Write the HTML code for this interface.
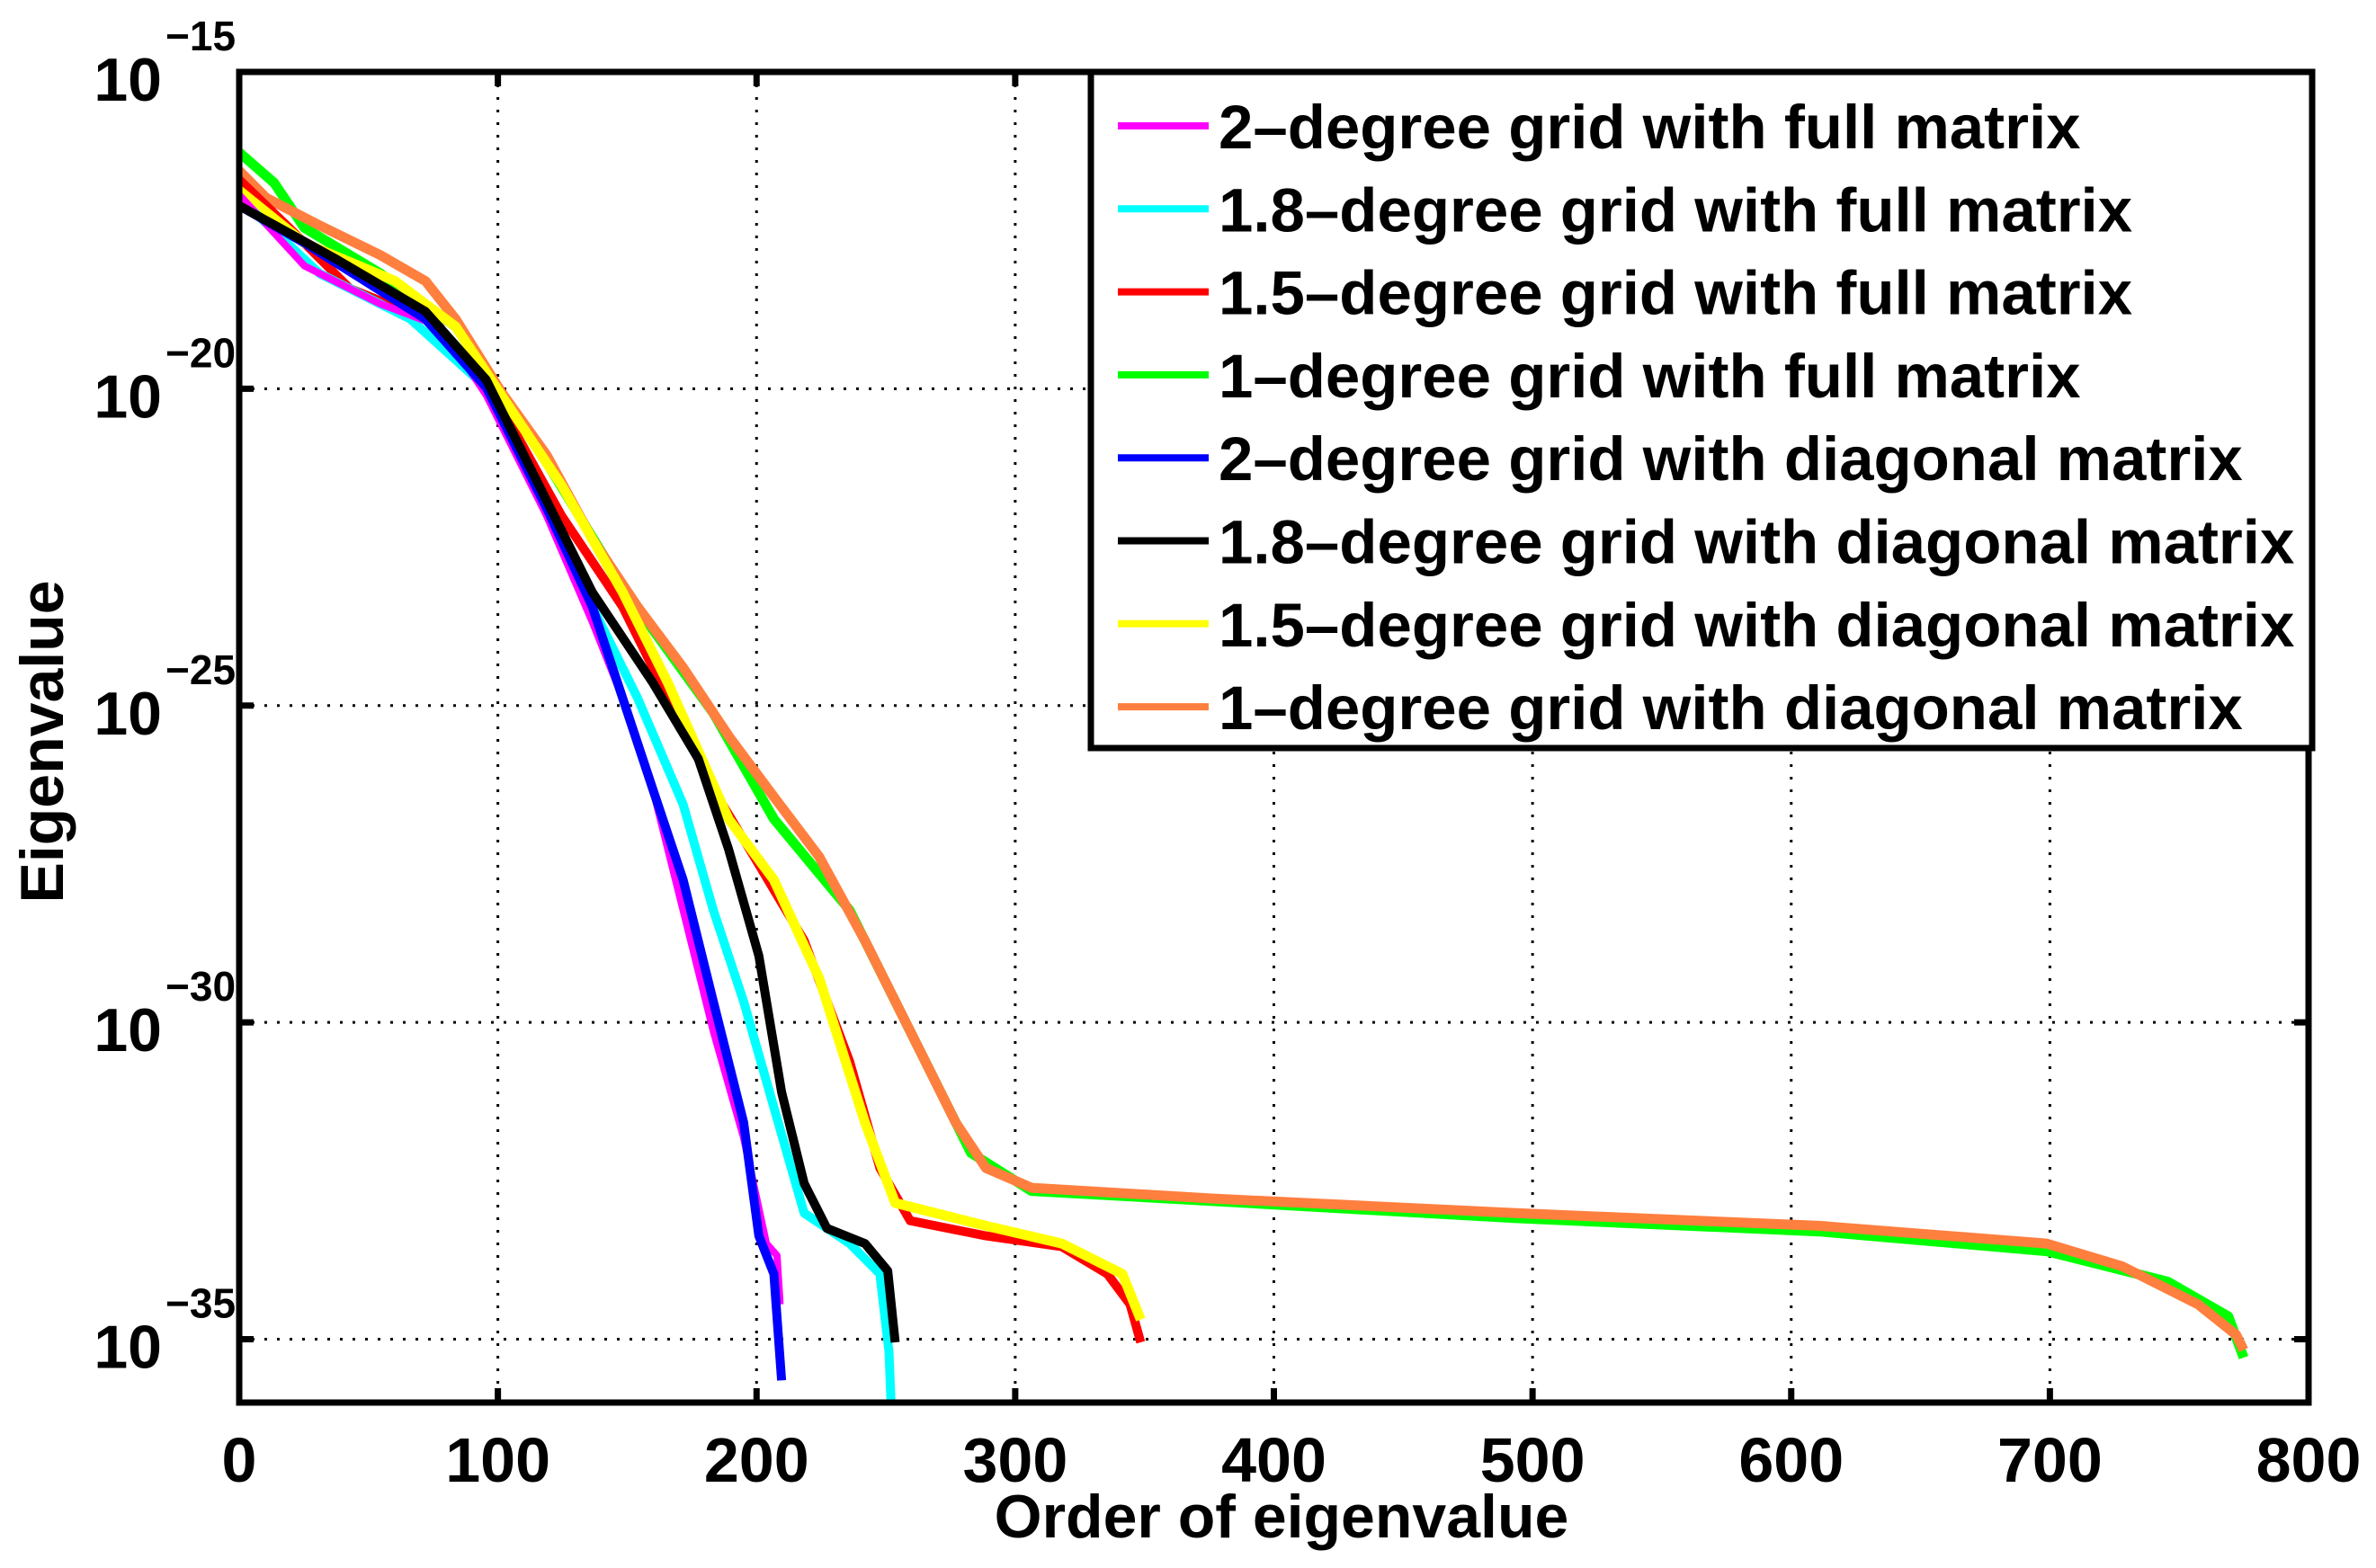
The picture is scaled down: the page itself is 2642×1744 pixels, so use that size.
<!DOCTYPE html>
<html><head><meta charset="utf-8"><style>html,body{margin:0;padding:0;background:#fff}svg{display:block}text{font-family:"Liberation Sans",sans-serif;font-weight:bold;fill:#000}</style></head>
<body>
<svg id="chart" width="2642" height="1744" viewBox="0 0 2642 1744" xmlns="http://www.w3.org/2000/svg">
<g id="grid"></g>
<g id="series"></g>
<g id="axes"></g>
<g id="legend"></g>
</svg>
<script>
const xTicks = [0,100,200,300,400,500,600,700,800];
const yTicks = [-15,-20,-25,-30,-35];
const seriesNames = ["2\u2013degree grid with full matrix","1.8\u2013degree grid with full matrix","1.5\u2013degree grid with full matrix","1\u2013degree grid with full matrix","2\u2013degree grid with diagonal matrix","1.8\u2013degree grid with diagonal matrix","1.5\u2013degree grid with diagonal matrix","1\u2013degree grid with diagonal matrix"];
const seriesColors = ["#ff00ff","#00ffff","#ff0000","#00ff00","#0000ff","#000000","#ffff00","#ff7f3f"];
const magentaX = [0,25.2,54.5,77.9,95.5,118.9,136.5,148.2,159.9,171.6,183.3,195.0,203.8,207.9,209.1];
const magentaY = [-16.94,-18.06,-18.66,-19.02,-20.10,-22.01,-23.68,-24.88,-26.32,-28.23,-30.14,-31.82,-33.49,-33.68,-34.45];
const cyanX = [0,31.0,66.2,95.5,118.9,136.5,154.0,171.6,183.3,195.0,206.7,218.4,236.0,247.7,251.2,252];
const cyanY = [-16.99,-18.18,-18.90,-19.98,-21.89,-23.44,-24.88,-26.56,-28.23,-29.67,-31.34,-33.01,-33.49,-33.97,-35.2,-36.0];
const redX = [0,19.3,42.8,72.0,95.5,124.7,148.2,165.7,183.3,200.9,218.4,236.0,247.7,259.4,288.7,318.0,335.6,344.4,348.5];
const redY = [-16.70,-17.46,-18.42,-18.90,-19.86,-22.01,-23.44,-24.88,-26.32,-27.51,-28.71,-30.62,-32.30,-33.13,-33.37,-33.54,-33.97,-34.45,-35.05];
const greenX = [0,13.5,25.2,54.5,83.7,101.3,118.9,142.3,159.9,183.3,206.7,236.0,259.4,282.9,306.3,376.6,493.7,610.8,698.7,745.5,769.0,774.9];
const greenY = [-16.27,-16.75,-17.46,-18.18,-19.02,-20.10,-21.17,-22.73,-23.80,-25.12,-26.79,-28.23,-30.14,-32.06,-32.66,-32.82,-33.09,-33.30,-33.61,-34.09,-34.64,-35.29];
const blueX = [0,25.2,72.0,95.5,118.9,136.5,148.2,159.9,171.6,183.3,195.0,200.9,206.7,209.7];
const blueY = [-17.11,-17.70,-18.90,-19.98,-21.89,-23.44,-24.88,-26.32,-27.75,-29.67,-31.58,-33.37,-33.97,-35.65];
const blackX = [0,36.9,72.0,95.5,118.9,136.5,159.9,177.5,189.2,200.9,209.7,218.4,227.2,241.9,250.7,253.6];
const blackY = [-17.11,-17.94,-18.78,-19.86,-21.77,-23.21,-24.64,-25.84,-27.27,-28.95,-31.10,-32.54,-33.25,-33.49,-33.92,-35.05];
const yellowX = [0,25.2,60.3,83.7,101.3,124.7,148.2,165.7,189.2,206.7,224.3,241.9,253.6,288.7,318.0,341.4,348.5];
const yellowY = [-16.87,-17.70,-18.30,-19.02,-20.10,-21.53,-23.21,-24.64,-26.79,-27.75,-29.31,-31.58,-32.85,-33.21,-33.49,-33.97,-34.69];
const orangeX = [0,10.5,31.0,54.5,72.0,83.7,101.3,118.9,136.5,154.0,171.6,189.2,206.7,224.3,241.9,259.4,277.0,288.7,306.3,376.6,493.7,610.8,698.7,728.0,757.3,772.0,774.9];
const orangeY = [-16.56,-16.99,-17.42,-17.89,-18.30,-18.90,-20.05,-21.05,-22.37,-23.44,-24.40,-25.48,-26.44,-27.39,-28.71,-30.14,-31.58,-32.30,-32.61,-32.78,-33.01,-33.21,-33.49,-33.85,-34.45,-34.93,-35.17];

const L=266,R=2567,T=80,B=1560;
const X=v=>L+v*(R-L)/800;
const Y=l=>T+(-15-l)*(B-T)/21;
const NS="http://www.w3.org/2000/svg";
function mk(tag,attrs,parent){const e=document.createElementNS(NS,tag);for(const k in attrs)e.setAttribute(k,attrs[k]);parent.appendChild(e);return e;}
const grid=document.getElementById('grid'),ser=document.getElementById('series'),axes=document.getElementById('axes'),leg=document.getElementById('legend');

xTicks.forEach((t,i)=>{
  if(i>0&&i<xTicks.length-1){const g=mk('line',{x1:X(t),x2:X(t),y1:T,y2:B,stroke:'#000','stroke-width':3,'stroke-dasharray':'3 11'},grid);
  
  }
  const tk=mk('line',{x1:X(t),x2:X(t),y1:B,y2:B-16,stroke:'#000','stroke-width':7},axes);
  
  
  const tk2=mk('line',{x1:X(t),x2:X(t),y1:T,y2:T+16,stroke:'#000','stroke-width':7},axes);
  
  
  const lb=mk('text',{x:X(t),y:1648,'font-size':70,'text-anchor':'middle'},axes);lb.textContent=t;
  
  
});
yTicks.forEach((t,i)=>{
  if(i>0){const g=mk('line',{x1:L,x2:R,y1:Y(t),y2:Y(t),stroke:'#000','stroke-width':3,'stroke-dasharray':'3 11'},grid);
  
  }
  const tk=mk('line',{x1:L,x2:L+16,y1:Y(t),y2:Y(t),stroke:'#000','stroke-width':7},axes);
  
  
  const tk2=mk('line',{x1:R,x2:R-16,y1:Y(t),y2:Y(t),stroke:'#000','stroke-width':7},axes);
  
  
  const lb=mk('text',{x:180,y:Y(t)+32,'font-size':68,'text-anchor':'end'},axes);lb.textContent='10';
  
  
  const ex=mk('text',{x:184,y:Y(t)-24,'font-size':46},axes);ex.textContent='\u2212'+(-t);
  
  
});

const xs=[magentaX,cyanX,redX,greenX,blueX,blackX,yellowX,orangeX];
const ys=[magentaY,cyanY,redY,greenY,blueY,blackY,yellowY,orangeY];
const drawOrder=[3,7,2,6,1,0,4,5];
const widths=[8,10,10,11,10,10,11,11];
drawOrder.forEach(i=>{
  const pts=xs[i].map((v,j)=>X(v).toFixed(1)+','+Y(ys[i][j]).toFixed(1)).join(' ');
  const p=mk('polyline',{points:pts,fill:'none',stroke:seriesColors[i],'stroke-width':widths[i],'stroke-linejoin':'round'},ser);
  
  
});

const fr=mk('rect',{x:L,y:T,width:R-L,height:B-T,fill:'none',stroke:'#000','stroke-width':7},axes);


const xl=mk('text',{x:1425,y:1710,'font-size':68,'text-anchor':'middle'},axes);xl.textContent='Order of eigenvalue';


const yl=mk('text',{x:0,y:0,'font-size':68,'text-anchor':'middle',transform:'translate(70,825) rotate(-90)'},axes);yl.textContent='Eigenvalue';



const lb=mk('rect',{x:1213,y:80,width:1358,height:752,fill:'#fff',stroke:'#000','stroke-width':7},leg);


seriesNames.forEach((n,i)=>{
  const cy=140+i*92.3;
  const s=mk('line',{x1:1243,x2:1344,y1:cy,y2:cy,stroke:seriesColors[i],'stroke-width':8},leg);
  
  
  const t=mk('text',{x:1355,y:cy+25,'font-size':69},leg);t.textContent=n;
  
  
});
</script>
</body></html>
